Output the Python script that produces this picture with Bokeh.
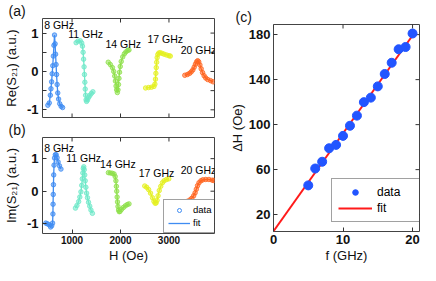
import math
from bokeh.plotting import figure
from bokeh.layouts import row, column
from bokeh.models import Range1d, FixedTicker, Legend, LegendItem
from bokeh.core.properties import value
from bokeh.embed import file_html
from bokeh.resources import INLINE

FONT = "Liberation Sans"

# ---------------- data: panels (a) and (b) ----------------
FREQ_LABELS = ["8 GHz", "11 GHz", "14 GHz", "17 GHz", "20 GHz"]
COLORS = ["#3f8cf2", "#6ee8c8", "#8ee04a", "#e4f020", "#ff6420"]

RE_8_H = [500, 530, 552, 565, 578, 590, 602, 614, 626, 638, 650, 660, 670, 680, 692, 705, 722, 745, 775, 805]
RE_8_V = [-0.88, -0.82, -0.62, -0.45, -0.27, -0.06, 0.15, 0.40, 0.68, 0.95, 0.72, 0.45, 0.18, -0.08, -0.34, -0.56, -0.72, -0.84, -0.91, -0.94]
RE_11_H = [1084, 1120, 1169, 1200, 1215, 1228, 1238, 1248, 1256, 1264, 1272, 1280, 1290, 1300, 1320, 1345, 1370, 1400, 1430]
RE_11_V = [0.75, 0.79, 0.80, 0.74, 0.66, 0.50, 0.32, 0.12, -0.08, -0.28, -0.46, -0.62, -0.74, -0.78, -0.74, -0.67, -0.62, -0.57, -0.53]
RE_14_H = [1747, 1790, 1833, 1860, 1880, 1895, 1908, 1920, 1935, 1948, 1958, 1968, 1980, 1995, 2015, 2046, 2080, 2112, 2150, 2175]
RE_14_V = [0.24, 0.18, 0.10, 0.00, -0.12, -0.25, -0.38, -0.48, -0.55, -0.48, -0.34, -0.18, -0.02, 0.13, 0.26, 0.38, 0.46, 0.51, 0.55, 0.56]
RE_17_H = [2518, 2580, 2640, 2690, 2710, 2722, 2730, 2738, 2746, 2756, 2770, 2790, 2820, 2860, 2900, 2950, 3000, 3028]
RE_17_V = [-0.43, -0.42, -0.41, -0.39, -0.33, -0.20, -0.05, 0.10, 0.24, 0.36, 0.44, 0.48, 0.49, 0.47, 0.45, 0.43, 0.41, 0.40]
RE_20_H = [3327, 3380, 3426, 3460, 3493, 3520, 3546, 3570, 3593, 3615, 3639, 3665, 3693, 3725, 3759, 3800, 3859, 3912]
RE_20_V = [-0.10, -0.08, -0.05, -0.01, 0.04, 0.11, 0.19, 0.25, 0.28, 0.25, 0.17, 0.07, -0.03, -0.11, -0.17, -0.21, -0.24, -0.27]

IM_8_H = [458, 490, 525, 558, 580, 598, 605, 608, 612, 616, 621, 628, 638, 655, 672, 691, 712, 740, 771]
IM_8_V = [-0.98, -1.00, -1.03, -1.10, -1.06, -0.98, -0.70, -0.40, -0.10, 0.20, 0.50, 0.80, 1.02, 1.12, 1.12, 1.03, 0.90, 0.78, 0.68]
IM_11_H = [1070, 1100, 1136, 1160, 1183, 1200, 1212, 1222, 1232, 1242, 1252, 1262, 1272, 1285, 1300, 1318, 1340, 1365, 1390, 1420]
IM_11_V = [-0.52, -0.44, -0.32, -0.18, -0.02, 0.18, 0.38, 0.56, 0.70, 0.75, 0.66, 0.50, 0.32, 0.12, -0.06, -0.20, -0.34, -0.46, -0.58, -0.68]
IM_14_H = [1750, 1790, 1830, 1867, 1890, 1905, 1915, 1922, 1930, 1938, 1948, 1960, 1975, 1990, 2020, 2060, 2100, 2140, 2175]
IM_14_V = [0.57, 0.56, 0.55, 0.53, 0.45, 0.32, 0.15, 0.00, -0.18, -0.33, -0.47, -0.58, -0.63, -0.62, -0.56, -0.50, -0.45, -0.41, -0.39]
IM_17_H = [2500, 2540, 2580, 2620, 2660, 2690, 2715, 2735, 2755, 2775, 2800, 2830, 2865, 2900, 2950, 2996]
IM_17_V = [0.16, 0.12, 0.05, -0.06, -0.20, -0.31, -0.37, -0.36, -0.28, -0.14, 0.02, 0.15, 0.26, 0.32, 0.36, 0.38]
IM_20_H = [3327, 3380, 3430, 3470, 3510, 3540, 3565, 3590, 3620, 3660, 3700, 3760, 3825, 3892, 3925]
IM_20_V = [-0.34, -0.31, -0.27, -0.22, -0.14, -0.05, 0.06, 0.17, 0.26, 0.32, 0.35, 0.36, 0.36, 0.34, 0.33]

RE_H = [RE_8_H, RE_11_H, RE_14_H, RE_17_H, RE_20_H]
RE_V = [RE_8_V, RE_11_V, RE_14_V, RE_17_V, RE_20_V]
IM_H = [IM_8_H, IM_11_H, IM_14_H, IM_17_H, IM_20_H]
IM_V = [IM_8_V, IM_11_V, IM_14_V, IM_17_V, IM_20_V]

RE_LABEL_H = [731, 1279, 2056, 2922, 3610]
RE_LABEL_V = [1.21, 0.97, 0.71, 0.85, 0.56]
IM_LABEL_H = [731, 1239, 1946, 2743, 3610]
IM_LABEL_V = [1.33, 1.02, 0.84, 0.55, 0.64]

H_TICKS = [1000, 2000, 3000]
RE_TICKS = [-1, -0.5, 0, 0.5, 1]
RE_TICK_TEXT = {-1: "-1", -0.5: "", 0: "0", 0.5: "", 1: "1"}
IM_TICKS = [-1, 0, 1]
IM_TICK_TEXT = {-1: "-1", 0: "0", 1: "1"}

# ---------------- data: panel (c) ----------------
F_GHZ = [5, 6, 7, 8, 9, 10, 11, 12, 13, 14, 15, 16, 17, 18, 19, 20]
DELTA_H = [46, 61, 67, 79, 82, 90, 99, 108, 120, 124, 134, 145, 155, 167, 169, 181]
FIT_F = [0, 20.2]
FIT_INTERCEPT = 5.3
FIT_SLOPE = 8.7
F_TICKS = [0, 10, 20]
DH_TICKS = [20, 60, 100, 140, 180]

TICK_COLOR = "#333333"

# ---------------- layout constants (pixels) ----------------
LEFT_W = 216
A_H, B_H = 119, 146
C_W, C_H = 204, 265
A_B = dict(l=36, r=2, t=16, b=2)
B_B = dict(l=36, r=2, t=16, b=30)
C_B = dict(l=57, r=1, t=24, b=34)


def make_fig(w, h, xr, yr, bd, title, title_x):
    p = figure(width=w, height=h, x_range=Range1d(*xr), y_range=Range1d(*yr),
               output_backend="svg", toolbar_location=None,
               min_border_left=bd["l"], min_border_right=bd["r"],
               min_border_top=bd["t"], min_border_bottom=bd["b"])
    p.title.text = title
    p.title.align = "left"
    p.title.offset = title_x - bd["l"]
    p.title.standoff = 0
    p.title.text_font = FONT
    p.title.text_font_size = "14px"
    p.title.text_font_style = "normal"
    p.title.text_color = "#111111"
    p.xgrid.visible = False
    p.ygrid.visible = False
    p.outline_line_color = "#444444"
    p.outline_line_width = 1
    return p


def style_axis(ax, ticks, label_size, standoff):
    ax.ticker = FixedTicker(ticks=ticks)
    ax.major_tick_in = 4
    ax.major_tick_out = 0
    ax.minor_tick_in = 0
    ax.minor_tick_out = 0
    ax.axis_line_color = None
    ax.major_tick_line_color = TICK_COLOR
    ax.major_label_text_font = FONT
    ax.major_label_text_font_style = "bold"
    ax.major_label_text_color = "#111111"
    ax.major_label_text_font_size = label_size
    ax.major_label_standoff = standoff
    ax.axis_label_text_font = FONT
    ax.axis_label_text_font_style = "normal"
    ax.axis_label_text_color = "#111111"
    ax.axis_label_text_font_size = "13px"


def inner_ticks(p, xticks, yticks, top=True, bottom=False):
    """Inward tick marks on the sides without an axis (half of each dash is clipped)."""
    xr, yr = p.x_range, p.y_range
    ys = []
    xs = []
    if top:
        xs += list(xticks)
        ys += [yr.end] * len(xticks)
    if bottom:
        xs += list(xticks)
        ys += [yr.start] * len(xticks)
    p.scatter(xs, ys, marker="dash", size=8, angle=math.pi / 2,
              line_color=TICK_COLOR, line_width=1)
    p.scatter([xr.end] * len(yticks), list(yticks), marker="dash", size=8,
              line_color=TICK_COLOR, line_width=1)


def draw_curves(p, hs, vs, lab_h, lab_v):
    for h, v, c, lab, lh, lv in zip(hs, vs, COLORS, FREQ_LABELS, lab_h, lab_v):
        p.line(h, v, line_color=c, line_width=1.3)
        p.scatter(h, v, marker="circle", size=4.5, line_color=c, fill_color=c,
                  fill_alpha=0.55, line_width=0.8)
        p.text(x=[lh], y=[lv], text=[lab], text_font=value(FONT), text_font_size="10.5px",
               text_font_style="normal", text_color="black", text_align="center",
               text_baseline="middle")


# ---------------- panel (a) ----------------
pa = make_fig(LEFT_W, A_H, (390, 3940), (-1.2, 1.38), A_B, "(a)", 2)
pa.xaxis.visible = False
style_axis(pa.yaxis[0], RE_TICKS, "13px", 4)
pa.yaxis[0].major_label_overrides = RE_TICK_TEXT
pa.yaxis[0].axis_label = "Re(S\u2082\u2081) (a.u.)"
pa.yaxis[0].axis_label_standoff = 5
inner_ticks(pa, H_TICKS, RE_TICKS, top=True, bottom=True)
draw_curves(pa, RE_H, RE_V, RE_LABEL_H, RE_LABEL_V)

# ---------------- panel (b) ----------------
pb = make_fig(LEFT_W, B_H, (390, 3940), (-1.3, 1.65), B_B, "(b)", 2)
style_axis(pb.xaxis[0], H_TICKS, "10px", 2)
pb.xaxis[0].axis_label = "H (Oe)"
pb.xaxis[0].axis_label_standoff = 1
style_axis(pb.yaxis[0], IM_TICKS, "13px", 4)
pb.yaxis[0].major_label_overrides = IM_TICK_TEXT
pb.yaxis[0].axis_label = "Im(S\u2082\u2081) (a.u.)"
pb.yaxis[0].axis_label_standoff = 5
inner_ticks(pb, H_TICKS, IM_TICKS, top=True)
draw_curves(pb, IM_H, IM_V, IM_LABEL_H, IM_LABEL_V)

leg_d = pb.scatter([-9000], [0], marker="circle", size=4, line_color=COLORS[0],
                   fill_color=None, line_width=1)
leg_f = pb.line([-9000, -8000], [0, 0], line_color=COLORS[0], line_width=1.3)
leg_b = Legend(items=[LegendItem(label="data", renderers=[leg_d]),
                      LegendItem(label="fit", renderers=[leg_f])],
               location=(121, 0), border_line_color="#444444", border_line_width=1,
               background_fill_color="white", background_fill_alpha=1.0,
               label_text_font=FONT, label_text_font_size="9.5px", label_text_color="black",
               glyph_width=22, glyph_height=10, label_height=10, label_width=22,
               spacing=2, padding=4, label_standoff=3, margin=0)
pb.add_layout(leg_b, "center")

# ---------------- panel (c) ----------------
pc = make_fig(C_W, C_H, (0, 21), (5, 189), C_B, "(c)", 19)
style_axis(pc.xaxis[0], F_TICKS, "13px", 3)
pc.xaxis[0].axis_label = "f (GHz)"
pc.xaxis[0].axis_label_standoff = 1
style_axis(pc.yaxis[0], DH_TICKS, "13px", 3)
pc.yaxis[0].axis_label = "\u0394H (Oe)"
pc.yaxis[0].axis_label_standoff = 1
inner_ticks(pc, F_TICKS, DH_TICKS, top=True)
fit_y = [FIT_INTERCEPT + FIT_SLOPE * f for f in FIT_F]
r_fit = pc.line(FIT_F, fit_y, line_color="#ff1a1a", line_width=2)
r_dat = pc.scatter(F_GHZ, DELTA_H, marker="circle", size=9, fill_color="#2255ff",
                   line_color="#2255ff")
leg_c = Legend(items=[LegendItem(label="data", renderers=[r_dat]),
                      LegendItem(label="fit", renderers=[r_fit])],
               location=(58, 9), border_line_color="#444444", border_line_width=1,
               background_fill_color="white", background_fill_alpha=1.0,
               label_text_font=FONT, label_text_font_size="12px", label_text_color="black",
               glyph_width=34, glyph_height=14, label_height=14, label_width=37,
               spacing=2, padding=6, label_standoff=5, margin=0)
pc.add_layout(leg_c, "center")

layout = row(column(pa, pb), pc)
open("out.html", "w").write(file_html(layout, INLINE))
